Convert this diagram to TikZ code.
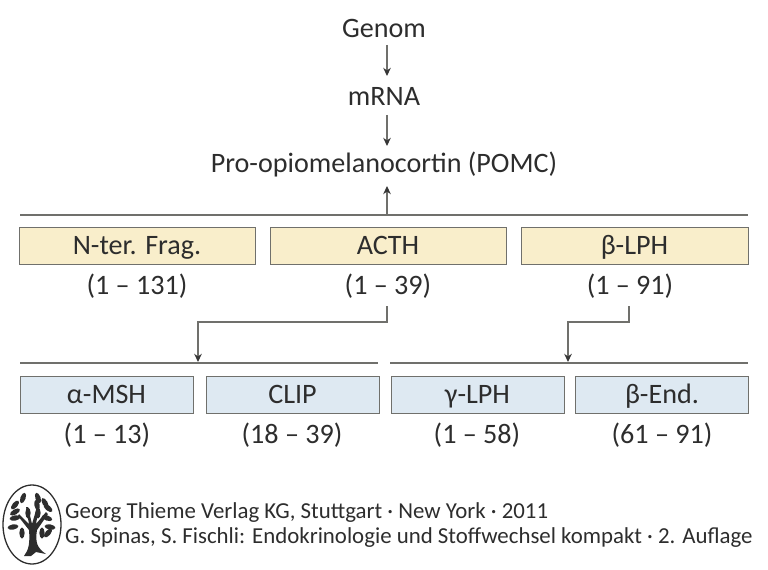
\documentclass[tikz,border=0pt]{standalone}
\usepackage{fontspec}
\setmainfont{Carlito}
\definecolor{linegray}{RGB}{112,112,108}
\definecolor{tipgray}{RGB}{55,55,55}
\definecolor{textgray}{RGB}{45,45,45}
\definecolor{boxyellow}{RGB}{249,238,203}
\definecolor{boxblue}{RGB}{222,233,242}
\tikzset{
  label/.style={text=textgray,font=\fontsize{24}{26}\selectfont,inner sep=0pt,text height=18pt,text depth=3pt},
  footer/.style={text=textgray,font=\fontsize{19.5}{22}\selectfont,inner sep=0pt,anchor=west,text height=13pt,text depth=4pt},
  yellowbox/.style={draw=linegray,fill=boxyellow,line width=0.8pt,minimum height=1.11cm,
    text=textgray,font=\fontsize{24}{26}\selectfont,inner sep=0pt,text height=18pt,text depth=3pt},
  bluebox/.style={draw=linegray,fill=boxblue,line width=0.8pt,minimum height=1.11cm,
    text=textgray,font=\fontsize{24}{26}\selectfont,inner sep=0pt,text height=18pt,text depth=3pt},
  conn/.style={draw=linegray,line width=0.9pt,-{Stealth[length=7pt,width=6.5pt,color=tipgray]}},
  rule/.style={draw=linegray,line width=0.9pt}
}
\usetikzlibrary{arrows.meta}
\begin{document}
\begin{tikzpicture}[x=0.03cm,y=-0.03cm]
\useasboundingbox (0,0) rectangle (768,570);

\node[label] (genom) at (384,29){Genom};
\node[label] (mrna) at (384,97){mRNA};
\node[label] (pomc) at (384,164){Pro-opiomelanocortin (POMC)};

% top row
\node[yellowbox,minimum width=7.08cm] (nter) at (137,245.5){N-ter. Frag.};
\node[yellowbox,minimum width=7.08cm] (acth) at (388,245.5){ACTH};
\node[yellowbox,minimum width=6.81cm] (lph) at (634.5,245.5){β-LPH};
\foreach \name/\x/\txt in {nterrange/137/1 -- 131,acthrange/388/1 -- 39,lphrange/630/1 -- 91}
{
  \node[label] (\name) at (\x,286){(\txt)};
}

% bottom row
\foreach \name/\x/\txt in {msh/106.5/α-MSH,clip/292.5/CLIP,glph/477.5/γ-LPH,bend/662/β-End.}
{
  \node[bluebox,minimum width=5.19cm] (\name) at (\x,394.5){\txt};
}
\foreach \name/\x/\txt in {mshrange/107/1 -- 13,cliprange/292/18 -- 39,glphrange/477/1 -- 58,bendrange/662/61 -- 91}
{
  \node[label] (\name) at (\x,435){(\txt)};
}

% rules
\coordinate (ruleA) at (20,215);
\coordinate (ruleB) at (748,215);
\coordinate (ruleC) at (20,363);
\coordinate (ruleD) at (378,363);
\coordinate (ruleE) at (390,363);
\coordinate (ruleF) at (748,363);
\draw[rule] (ruleA) -- (ruleB);
\draw[rule] (ruleC) -- (ruleD);
\draw[rule] (ruleE) -- (ruleF);

% arrows
\coordinate (genomout) at (387,45);
\coordinate (mrnain) at (387,76);
\coordinate (mrnaout) at (387,115);
\coordinate (pomcin) at (387,146);
\coordinate (pomcout) at (387,215);
\coordinate (pomcup) at (387,186);
\coordinate (acthout) at (387,306);
\coordinate (mshin) at (198,362);
\coordinate (lphout) at (629,306);
\coordinate (glphin) at (568,362);
\draw[conn] (genomout) -- (mrnain);
\draw[conn] (mrnaout) -- (pomcin);
\draw[conn] (pomcout) -- (pomcup);
\draw[conn] (acthout) -- (387,322) -- (198,322) -- (mshin);
\draw[conn] (lphout) -- (629,322) -- (568,322) -- (glphin);

% logo
\draw[textgray,line width=1.1pt,fill=white] (32,524.5) ellipse (29 and 39.5);
\fill[textgray] (24,556) .. controls (29,550) and (30,542) .. (29,530)
  -- (18,516) -- (19,514) -- (29,524) -- (26,507) -- (28,507) -- (32,524)
  -- (37,507) -- (39,507) -- (36,524) -- (46,512) -- (48,514) -- (37,530)
  .. controls (35,542) and (37,548) .. (46,554)
  -- (36,552) -- (31,556) -- cycle;
\foreach \x/\y/\a in {23/498/70,15/505/50,37/505/100,28/513/90,38/513/90,
  38/498/110,45/503/120,48/508/140,15/512/30,15/518/10,47/518/-20,
  13/527/10,50/527/-10,22/533/90,42/533/90,48/533/50}
{
  \fill[textgray,rotate around={\a:(\x,\y)}] (\x,\y) ellipse (5.5 and 2.6);
}
\node[footer] (verlag) at (65,513){Georg Thieme Verlag KG, Stuttgart · New York · 2011};
\node[footer] (buch) at (65,538){G. Spinas, S. Fischli: Endokrinologie und Stoffwechsel kompakt · 2. Auflage};
\end{tikzpicture}
\end{document}
